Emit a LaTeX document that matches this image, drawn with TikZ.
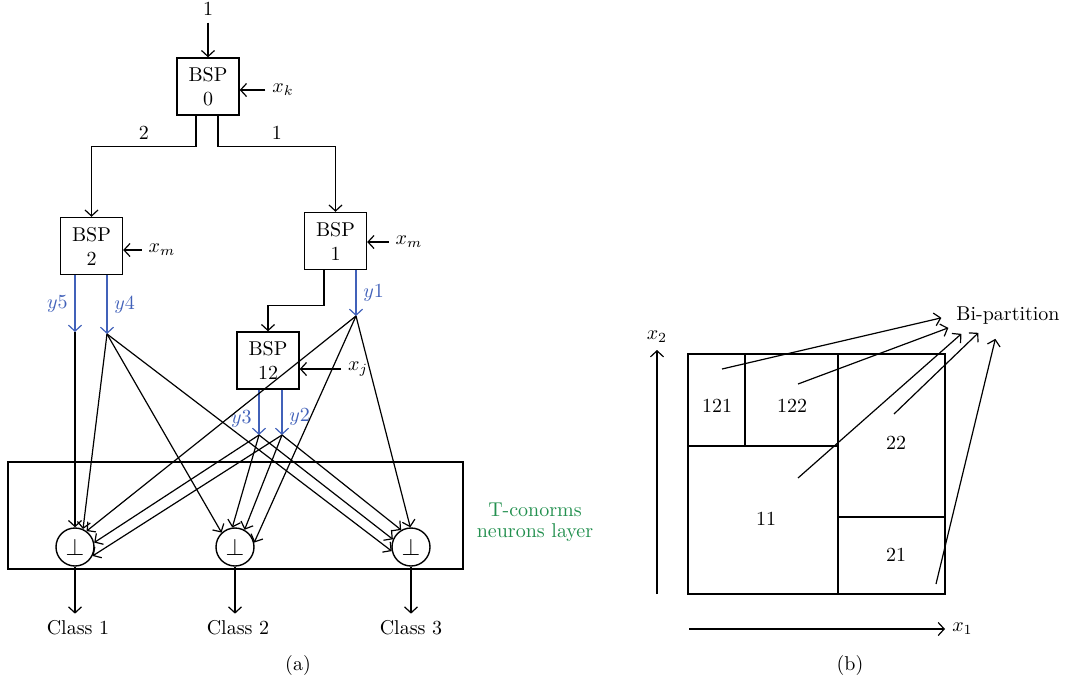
\documentclass[tikz,border=0pt]{standalone}
\usepackage{amsmath,amssymb}
\usepackage{xcolor}
\usepackage{tikz}
\usetikzlibrary{arrows.meta,calc}
\definecolor{yblue}{HTML}{4161B9}
\definecolor{tgreen}{HTML}{23904F}
\tikzset{
  bspbox/.style={draw,line width=0.7pt,minimum width=31pt,minimum height=28.5pt,align=center,inner sep=1pt},
  tnode/.style={draw,circle,line width=0.7pt,minimum size=19pt,inner sep=0pt,font=\large},
  layerbox/.style={draw,line width=0.7pt,minimum width=227.5pt,minimum height=53.5pt},
  varr/.style={-{Straight Barb[length=3pt,width=6.5pt]},line width=0.6pt},
  yarr/.style={varr,color=yblue},
  vline/.style={line width=0.7pt}
}

\begin{document}
\begin{tikzpicture}[x=0.5pt,y=-0.5pt]
  \useasboundingbox (0,0) rectangle (1066,681);

  % (a) tree of BSP units
  \node (top) at (208,9) {1};
  \node[bspbox] (b0) at (208,86.5) {BSP\\0};
  \node[bspbox] (b2) at (91.5,246) {BSP\\2};
  \node[bspbox] (b1) at (335.5,241) {BSP\\1};
  \node[bspbox] (b12) at (268,360.5) {BSP\\12};
  \node (xk) at (283,90) {$x_k$};
  \node (xm2) at (162,250) {$x_m$};
  \node (xm1) at (409,242) {$x_m$};
  \node (xj) at (358,369) {$x_j$};

  \draw[varr] (top) -- (b0);
  \draw[varr] (xk.west) -- (xk.west -| b0.east);
  \draw[varr] (xm2.west) -- (xm2.west -| b2.east);
  \draw[varr] (xm1.west) -- (xm1.west -| b1.east);
  \draw[varr] (xj.west) -- (xj.west -| b12.east);
  \draw[varr] ([xshift=-6pt]b0.south) -- ++(0,31) -| node[pos=0.25,above] {2} (b2.north);
  \draw[varr] ([xshift=5pt]b0.south) -- ++(0,31) -| node[pos=0.25,above] {1} (b1.north);
  \draw[varr] ([xshift=-5.75pt]b1.south) -- ++(0,35) -| (b12.north);

  % outputs y1..y5
  \coordinate (p5) at (75,332);
  \coordinate (p4) at (107,334);
  \coordinate (p1) at (356,316);
  \coordinate (p3) at (259,435);
  \coordinate (p2) at (282,435);
  \draw[yarr] (b2.south -| p5) -- node[left] {$y5$} (p5);
  \draw[yarr] (b2.south -| p4) -- node[right] {$y4$} (p4);
  \draw[yarr] (b1.south -| p1) -- node[right] {$y1$} (p1);
  \draw[yarr] (b12.south -| p3) -- node[pos=0.65,left] {$y3$} (p3);
  \draw[yarr] (b12.south -| p2) -- node[pos=0.6,right] {$y2$} (p2);

  % T-conorm layer
  \node[layerbox] (lay) at (235.5,515.5) {};
  \node[tnode] (c1) at (75,547) {$\perp$};
  \node[tnode] (c2) at (235,547) {$\perp$};
  \node[tnode] (c3) at (411,547) {$\perp$};
  \node[text=tgreen,align=center,font=\fontsize{10}{10.5}\selectfont] (lname) at (535,522) {T-conorms\\neurons layer};

  \foreach \src/\dst in {p5/c1.north, p4/c1.66, p1/c1.54, p3/c1.13, p2/c1.333,
                         p4/c2.133, p3/c2.98, p2/c2.61, p1/c2.13,
                         p1/c3.92, p2/c3.120, p3/c3.157, p4/c3.192}
    \draw[varr] (\src) -- (\dst);

  \node (k1) at (78,628) {Class 1};
  \node (k2) at (238,628) {Class 2};
  \node (k3) at (411,628) {Class 3};
  \foreach \i in {1,2,3}
    \draw[varr] (c\i.south) -- (c\i.south |- k\i.north);
  \node (capa) at (298,665) {(a)};

  % (b) partition of the input plane
  \draw[varr] (657,594) -- (657,350) node[above] (ax2) {$x_2$};
  \draw[varr] (689,629) -- (945,629) node[right] (ax1) {$x_1$};
  \draw[vline] (688,354) rectangle (945,594);
  \draw[vline] (745,354) -- (745,446) (688,446) -- (838,446)
               (838,354) -- (838,594) (838,517) -- (945,517);
  \node (r121) at (717,406) {121};
  \node (r122) at (792,406) {122};
  \node (r22) at (896,443) {22};
  \node (r11) at (766,519) {11};
  \node (r21) at (896,555) {21};

  \node (bip) at (1008,316) {Bi-partition};
  \coordinate (s121) at (722,369);
  \coordinate (s122) at (798,384);
  \coordinate (s11) at (798,478);
  \coordinate (s22) at (894,414);
  \coordinate (s21) at (936,584);
  \draw[varr] (s121) -- ($(bip.south west)+(-8,-14)$);
  \draw[varr] (s122) -- ($(bip.south west)+(-1,-4)$);
  \draw[varr] (s11) -- ($(bip.south west)+(12,2)$);
  \draw[varr] (s22) -- ($(bip.south west)+(29,1)$);
  \draw[varr] (s21) -- ($(bip.south west)+(46,7)$);
  \node (capb) at (850,665) {(b)};
\end{tikzpicture}
\end{document}
